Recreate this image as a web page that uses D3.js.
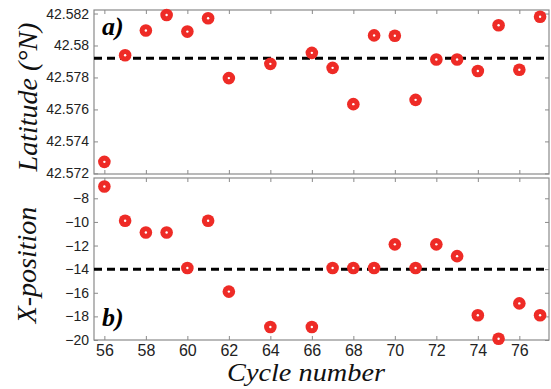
<!DOCTYPE html>
<html>
<head>
<meta charset="utf-8">
<script src="https://cdn.jsdelivr.net/npm/d3@7"></script>
<style>
  html, body { margin: 0; padding: 0; background: #fff; }
  svg { display: block; }
</style>
</head>
<body>
<svg id="chart" width="551" height="389"></svg>
<script>
// ---- data ----
const cycles = [56, 57, 58, 59, 60, 61, 62, 64, 66, 67, 68, 69, 70, 71, 72, 73, 74, 75, 76, 77];
const latitude = [42.57272, 42.57939, 42.58094, 42.58191, 42.58087, 42.5817, 42.57796, 42.57885,
                  42.57954, 42.5786, 42.57633, 42.58063, 42.58061, 42.5766, 42.57912, 42.57912,
                  42.5784, 42.58127, 42.57848, 42.5818];
const xPosition = [-7, -9.9, -10.9, -10.9, -13.9, -9.9, -15.9, -18.9,
                   -18.9, -13.9, -13.9, -13.9, -11.9, -13.9, -11.9, -12.9,
                   -17.9, -19.9, -16.9, -17.9];
const latitudeMean = 42.5792;
const xPositionMean = -14;
const xTicks = [56, 58, 60, 62, 64, 66, 68, 70, 72, 74, 76];
const latTicks = [42.572, 42.574, 42.576, 42.578, 42.58, 42.582];
const latTickLabels = ["42.572", "42.574", "42.576", "42.578", "42.58", "42.582"];
const posTicks = [-20, -18, -16, -14, -12, -10, -8];
const posTickLabels = ["\u221220", "\u221218", "\u221216", "\u221214", "\u221212", "\u221210", "\u22128"];

// ---- layout ----
const svg = d3.select("#chart");
const left = 94, right = 549;
const topPanel = { y0: 10, y1: 174 };
const botPanel = { y0: 178, y1: 340 };
const red = "#ee2b26";
const frameColor = "#8a8a8a";

const x = d3.scaleLinear().domain([55.5, 77.43]).range([left, right]);
const yLat = d3.scaleLinear().domain([42.57196, 42.58222]).range([topPanel.y1, topPanel.y0]);
const yPos = d3.scaleLinear().domain([-20, -6.28]).range([botPanel.y1, botPanel.y0]);

function panel(yScale, p, yTicks, yLabels, values, mean, showX) {
  const g = svg.append("g");
  // frame
  g.append("rect")
    .attr("x", left).attr("y", p.y0)
    .attr("width", right - left).attr("height", p.y1 - p.y0)
    .attr("fill", "none").attr("stroke", frameColor).attr("stroke-width", 1.2);

  const tickLen = 4;
  const tickStyle = sel => sel.select(".domain").remove();

  // bottom axis (inward ticks)
  const xb = g.append("g").attr("transform", `translate(0,${p.y1})`)
    .call(d3.axisBottom(x).tickValues(xTicks).tickSizeInner(-tickLen).tickSizeOuter(0)
      .tickFormat(showX ? d3.format("d") : () => ""));
  tickStyle(xb);
  xb.selectAll("line").attr("stroke", frameColor);
  xb.selectAll("text").attr("y", 5).attr("dy", "0.71em")
    .style("font-family", "'Liberation Sans', Arial, sans-serif")
    .style("font-size", "16px").attr("fill", "#222");

  // top axis (inward ticks)
  const xt = g.append("g").attr("transform", `translate(0,${p.y0})`)
    .call(d3.axisTop(x).tickValues(xTicks).tickSizeInner(-tickLen).tickSizeOuter(0).tickFormat(() => ""));
  tickStyle(xt);
  xt.selectAll("line").attr("stroke", frameColor);

  // left axis
  const yl = g.append("g").attr("transform", `translate(${left},0)`)
    .call(d3.axisLeft(yScale).tickValues(yTicks).tickSizeInner(-tickLen).tickSizeOuter(0)
      .tickFormat((d, i) => yLabels[i]));
  tickStyle(yl);
  yl.selectAll("line").attr("stroke", frameColor);
  yl.selectAll("text").attr("x", -5)
    .style("font-family", "'Liberation Sans', Arial, sans-serif")
    .style("font-size", "14px").attr("fill", "#222");

  // right axis
  const yr = g.append("g").attr("transform", `translate(${right},0)`)
    .call(d3.axisRight(yScale).tickValues(yTicks).tickSizeInner(-tickLen).tickSizeOuter(0).tickFormat(() => ""));
  tickStyle(yr);
  yr.selectAll("line").attr("stroke", frameColor);

  // mean dashed line
  g.append("line")
    .attr("x1", left).attr("x2", right)
    .attr("y1", yScale(mean)).attr("y2", yScale(mean))
    .attr("stroke", "#000").attr("stroke-width", 3)
    .attr("stroke-dasharray", "8,5");

  // points
  const pts = g.append("g").selectAll("g").data(cycles.map((c, i) => [c, values[i]])).join("g")
    .attr("transform", d => `translate(${x(d[0])},${yScale(d[1])})`);
  pts.append("circle").attr("r", 6.3).attr("fill", red);
  pts.append("circle").attr("r", 1.2).attr("fill", "#fff");
  return g;
}

panel(yLat, topPanel, latTicks, latTickLabels, latitude, latitudeMean, false);
panel(yPos, botPanel, posTicks, posTickLabels, xPosition, xPositionMean, true);

// panel letters
svg.append("text").attr("x", 102).attr("y", 35).text("a)")
  .style("font-family", "'Liberation Serif', 'Times New Roman', serif")
  .style("font-style", "italic").style("font-weight", "bold").style("font-size", "26px");
svg.append("text").attr("x", 102).attr("y", 326).text("b)")
  .style("font-family", "'Liberation Serif', 'Times New Roman', serif")
  .style("font-style", "italic").style("font-weight", "bold").style("font-size", "26px");

// axis titles
const titleStyle = sel => sel
  .style("font-family", "'Liberation Serif', 'Times New Roman', serif")
  .style("font-style", "italic").style("font-size", "28px").attr("fill", "#111");

svg.append("text").attr("text-anchor", "middle")
  .attr("transform", "translate(37,97) rotate(-90)")
  .text("Latitude (\u00B0N)").call(titleStyle);
svg.append("text").attr("text-anchor", "middle")
  .attr("transform", "translate(36,265) rotate(-90)")
  .text("X-position").call(titleStyle);
svg.append("text").attr("text-anchor", "middle")
  .attr("x", 306).attr("y", 381)
  .attr("textLength", 158).attr("lengthAdjust", "spacingAndGlyphs")
  .text("Cycle number").call(titleStyle)
  .style("font-size", "24.5px");
</script>
</body>
</html>
